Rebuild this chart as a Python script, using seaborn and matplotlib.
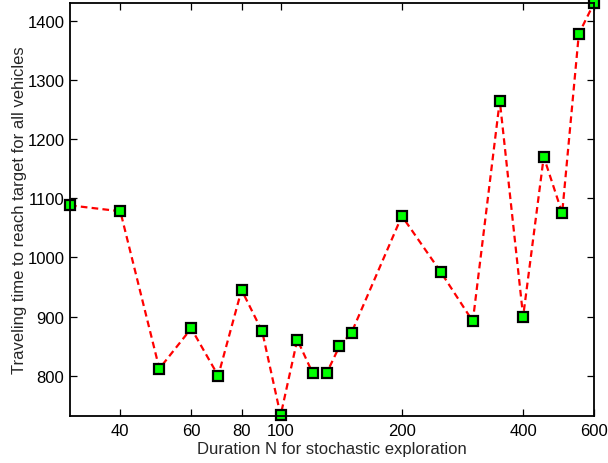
import matplotlib
matplotlib.use("Agg")
import matplotlib.pyplot as plt
import seaborn as sns
import pandas as pd
from matplotlib.ticker import FixedLocator, FixedFormatter, NullLocator

# Exploration duration N and resulting travel time
duration = [30, 40, 50, 60, 70, 80, 90, 100, 110, 120, 130, 140, 150,
            200, 250, 300, 350, 400, 450, 500, 550, 600]
travel_time = [1088, 1078, 812, 880, 800, 945, 875, 733, 861, 805, 804, 850, 873,
               1070, 975, 892, 1265, 900, 1170, 1075, 1378, 1430]

x_ticks = [40, 60, 80, 100, 200, 400, 600]
y_ticks = [800, 900, 1000, 1100, 1200, 1300, 1400]

df = pd.DataFrame({"N": duration, "T": travel_time})

sns.set_style("white")
plt.rcParams["font.family"] = ["Liberation Sans", "DejaVu Sans"]

fig = plt.figure(figsize=(6.08, 4.64), dpi=100)
ax = fig.add_axes([0.1151, 0.1013, 0.862, 0.8901])

sns.lineplot(data=df, x="N", y="T", ax=ax, estimator=None, sort=False,
             color="red", linestyle="--", linewidth=1.6, dashes=False,
             marker="s", markersize=7, markerfacecolor="#00ff00",
             markeredgecolor="black", markeredgewidth=1.6, clip_on=False)
for line in ax.get_lines():
    line.set_linestyle("--")
    line.set_dashes([3.0, 1.9])

ax.set_xscale("log")
ax.set_xlim(30, 600)
ax.set_ylim(732, 1430)
ax.xaxis.set_major_locator(FixedLocator(x_ticks))
ax.xaxis.set_major_formatter(FixedFormatter([str(v) for v in x_ticks]))
ax.xaxis.set_minor_locator(NullLocator())
ax.set_yticks(y_ticks)

ax.tick_params(direction="in", length=5, width=0.9, colors="black",
               labelsize=12, top=True, right=True, bottom=True, left=True,
               pad=4)
ax.tick_params(axis="x", pad=5)
for s in ax.spines.values():
    s.set_color("black")
    s.set_linewidth(1.3)
    s.set_visible(True)

ax.set_xlabel("Duration N for stochastic exploration", fontsize=12, labelpad=2)
ax.set_ylabel("Traveling time to reach target for all vehicles", fontsize=12,
              labelpad=0)

fig.savefig("out.png", dpi=100)
